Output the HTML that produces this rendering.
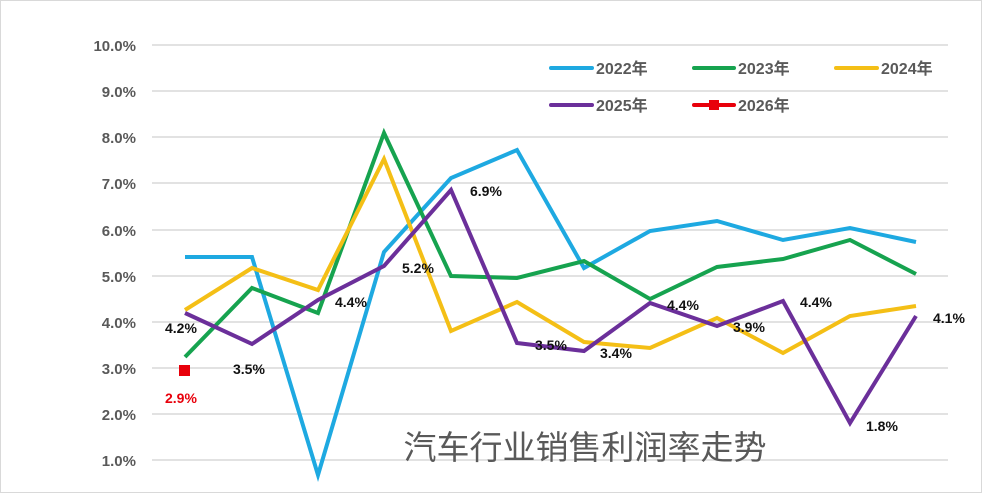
<!DOCTYPE html>
<html><head><meta charset="utf-8"><style>
body{margin:0;background:#fff}
svg{display:block}
text{font-family:"Liberation Sans","Noto Sans CJK SC",sans-serif}
</style></head><body>
<svg width="982" height="493" viewBox="0 0 982 493">
<rect x="0.5" y="0.5" width="981" height="492" fill="#fff" stroke="#d9d9d9"/>
<g stroke="#d9d9d9" stroke-width="1.5">
<line x1="152" x2="948" y1="45" y2="45"/><line x1="152" x2="948" y1="91" y2="91"/>
<line x1="152" x2="948" y1="137" y2="137"/><line x1="152" x2="948" y1="183" y2="183"/>
<line x1="152" x2="948" y1="230" y2="230"/><line x1="152" x2="948" y1="276" y2="276"/>
<line x1="152" x2="948" y1="322" y2="322"/><line x1="152" x2="948" y1="368" y2="368"/>
<line x1="152" x2="948" y1="414" y2="414"/><line x1="152" x2="948" y1="460" y2="460"/>
</g>
<g fill="#595959" font-size="15" font-weight="bold" text-anchor="end">
<text x="136" y="51">10.0%</text><text x="136" y="97">9.0%</text><text x="136" y="143">8.0%</text>
<text x="136" y="189">7.0%</text><text x="136" y="236">6.0%</text><text x="136" y="282">5.0%</text>
<text x="136" y="328">4.0%</text><text x="136" y="374">3.0%</text><text x="136" y="420">2.0%</text>
<text x="136" y="466">1.0%</text>
</g>
<text x="585" y="459" font-size="33" fill="#595959" text-anchor="middle">汽车行业销售利润率走势</text>
<g fill="none" stroke-width="4" stroke-linejoin="miter">
<polyline stroke="#1ea9e1" points="185,257 252,257 318,475 384,252 451,178 517,150 584,268 650,231 717,221 783,240 850,228 916,242"/>
<polyline stroke="#16a34f" points="185,357 252,288 318,313 384,133 451,276 517,278 584,261 650,299 717,267 783,259 850,240 916,274"/>
<polyline stroke="#f4bf16" points="185,310 252,268 318,290 384,159 451,331 517,302 584,342 650,348 717,318 783,353 850,316 916,306"/>
<polyline stroke="#6b2f9a" points="185,313 252,344 318,300 384,266 451,190 517,343 584,351 650,303 717,326 783,301 850,423 916,316"/>
</g>
<rect x="179" y="365" width="11" height="11" fill="#e8000b"/>
<g font-size="14" font-weight="bold" fill="#111">
<text x="165" y="333">4.2%</text><text x="233" y="374">3.5%</text><text x="335" y="307">4.4%</text>
<text x="402" y="273">5.2%</text><text x="470" y="196">6.9%</text><text x="535" y="350">3.5%</text>
<text x="600" y="358">3.4%</text><text x="667" y="310">4.4%</text><text x="733" y="332">3.9%</text>
<text x="800" y="307">4.4%</text><text x="866" y="431">1.8%</text><text x="933" y="323">4.1%</text>
</g>
<text x="165" y="403" font-size="14" font-weight="bold" fill="#e8000b">2.9%</text>
<g stroke-width="4" stroke-linecap="round">
<line x1="551" x2="592" y1="68" y2="68" stroke="#1ea9e1"/>
<line x1="694" x2="734" y1="68" y2="68" stroke="#16a34f"/>
<line x1="836" x2="877" y1="68" y2="68" stroke="#f4bf16"/>
<line x1="551" x2="592" y1="105" y2="105" stroke="#6b2f9a"/>
<line x1="694" x2="734" y1="105" y2="105" stroke="#e8000b"/>
</g>
<rect x="709" y="100" width="10" height="10" fill="#e8000b"/>
<g font-size="16" font-weight="bold" fill="#595959">
<text x="596" y="74">2022年</text><text x="738" y="74">2023年</text><text x="881" y="74">2024年</text>
<text x="596" y="111">2025年</text><text x="738" y="111">2026年</text>
</g>
</svg>
</body></html>
